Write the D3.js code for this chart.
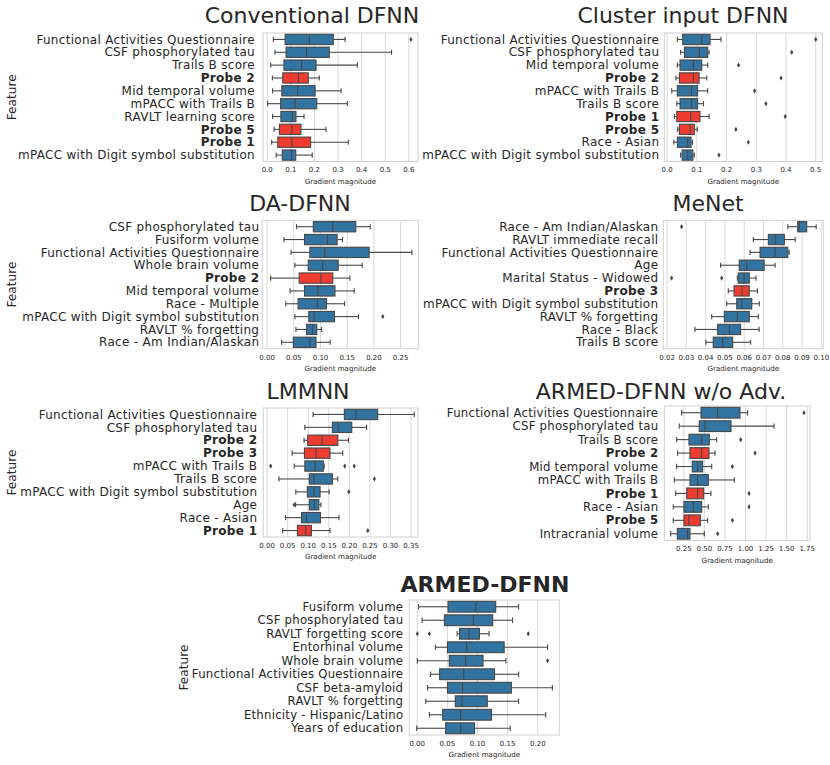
<!DOCTYPE html>
<html><head><meta charset="utf-8">
<script src="https://cdn.jsdelivr.net/npm/d3@7"></script>
<style>body{margin:0;background:#fff} svg{display:block;font-family:"DejaVu Sans",sans-serif}</style>
</head><body><svg id="c" width="830" height="765"></svg>
<script>
// ---------- DATA ----------
const titles = ["Conventional DFNN","Cluster input DFNN","DA-DFNN","MeNet","LMMNN","ARMED-DFNN w/o Adv.","ARMED-DFNN"];
const xAxisLabel = "Gradient magnitude";
const yAxisLabel = "Feature";

// box stats: [lower whisker, Q1, median, Q3, upper whisker]
const convFeatures = ["Functional Activities Questionnaire","CSF phosphorylated tau","Trails B score","Probe 2","Mid temporal volume","mPACC with Trails B","RAVLT learning score","Probe 5","Probe 1","mPACC with Digit symbol substitution"];
const convBoxes = [[0.028,0.078,0.181,0.282,0.332],[0.035,0.082,0.169,0.265,0.529],[0.017,0.073,0.148,0.209,0.384],[0.024,0.068,0.134,0.176,0.223],[0.025,0.064,0.131,0.205,0.315],[0.004,0.059,0.120,0.212,0.342],[0.025,0.060,0.109,0.124,0.158],[0.031,0.054,0.107,0.145,0.251],[0.021,0.047,0.107,0.186,0.346],[0.040,0.066,0.106,0.123,0.193]];
const convOutliers = [[0.611],[],[],[],[],[],[],[],[],[]];
const convTicks = [0,0.1,0.2,0.3,0.4,0.5,0.6];

const clusterFeatures = ["Functional Activities Questionnaire","CSF phosphorylated tau","Mid temporal volume","Probe 2","mPACC with Trails B","Trails B score","Probe 1","Probe 5","Race - Asian","mPACC with Digit symbol substitution"];
const clusterBoxes = [[0.036,0.054,0.118,0.146,0.183],[0.047,0.060,0.110,0.138,0.143],[0.036,0.045,0.090,0.118,0.138],[0.031,0.043,0.090,0.109,0.135],[0.017,0.036,0.084,0.104,0.138],[0.034,0.045,0.084,0.104,0.124],[0.026,0.034,0.081,0.112,0.143],[0.037,0.043,0.079,0.093,0.103],[0.024,0.036,0.071,0.082,0.087],[0.047,0.052,0.071,0.088,0.093]];
const clusterOutliers = [[0.502],[0.421],[0.242],[0.385],[0.296],[0.334],[0.399],[0.233],[0.275],[0.176]];
const clusterTicks = [0,0.1,0.2,0.3,0.4,0.5];

const daFeatures = ["CSF phosphorylated tau","Fusiform volume","Functional Activities Questionnaire","Whole brain volume","Probe 2","Mid temporal volume","Race - Multiple","mPACC with Digit symbol substitution","RAVLT % forgetting","Race - Am Indian/Alaskan"];
const daBoxes = [[0.056,0.0875,0.124,0.167,0.194],[0.0325,0.071,0.114,0.132,0.142],[0.046,0.081,0.109,0.192,0.272],[0.053,0.078,0.105,0.134,0.179],[0.0075,0.061,0.102,0.124,0.156],[0.044,0.071,0.096,0.128,0.164],[0.036,0.059,0.095,0.112,0.146],[0.053,0.079,0.089,0.127,0.172],[0.055,0.075,0.086,0.094,0.103],[0.028,0.050,0.081,0.0925,0.119]];
const daOutliers = [[],[],[],[],[],[],[],[0.2175],[],[]];
const daTicks = [0,0.05,0.10,0.15,0.20,0.25];

const menetFeatures = ["Race - Am Indian/Alaskan","RAVLT immediate recall","Functional Activities Questionnaire","Age","Marital Status - Widowed","Probe 3","mPACC with Digit symbol substitution","RAVLT % forgetting","Race - Black","Trails B score"];
const menetBoxes = [[0.0829,0.0880,0.0889,0.0927,0.0976],[0.0650,0.0728,0.0763,0.0811,0.0867],[0.0633,0.0685,0.0763,0.0829,0.0836],[0.0480,0.0577,0.0616,0.0706,0.0763],[0.0567,0.0572,0.0602,0.0629,0.0664],[0.0520,0.0550,0.0591,0.0629,0.0671],[0.0512,0.0564,0.0591,0.0642,0.0681],[0.0434,0.0500,0.0567,0.0629,0.0676],[0.0347,0.0465,0.0526,0.0584,0.0680],[0.0404,0.0442,0.0491,0.0543,0.0636]];
const menetOutliers = [[0.0278],[],[],[],[0.0226,0.0486],[],[],[],[],[]];
const menetTicks = [0.02,0.03,0.04,0.05,0.06,0.07,0.08,0.09,0.10];

const lmmFeatures = ["Functional Activities Questionnaire","CSF phosphorylated tau","Probe 2","Probe 3","mPACC with Trails B","Trails B score","mPACC with Digit symbol substitution","Age","Race - Asian","Probe 1"];
const lmmBoxes = [[0.113,0.189,0.217,0.270,0.359],[0.093,0.160,0.174,0.207,0.243],[0.091,0.100,0.135,0.173,0.199],[0.062,0.092,0.120,0.154,0.185],[0.067,0.093,0.118,0.138,0.140],[0.030,0.104,0.115,0.160,0.173],[0.071,0.099,0.115,0.130,0.152],[0.0705,0.104,0.116,0.127,0.132],[0.046,0.085,0.097,0.131,0.176],[0.039,0.075,0.095,0.109,0.154]];
const lmmOutliers = [[],[],[],[],[0.010,0.190,0.213],[0.262],[0.200],[0.067],[],[0.246]];
const lmmTicks = [0,0.05,0.10,0.15,0.20,0.25,0.30,0.35];

const advFeatures = ["Functional Activities Questionnaire","CSF phosphorylated tau","Trails B score","Probe 2","Mid temporal volume","mPACC with Trails B","Probe 1","Race - Asian","Probe 5","Intracranial volume"];
const advBoxes = [[0.230,0.465,0.668,0.939,1.032],[0.201,0.444,0.514,0.830,1.353],[0.169,0.319,0.473,0.566,0.655],[0.181,0.331,0.473,0.562,0.635],[0.169,0.359,0.424,0.485,0.595],[0.140,0.331,0.424,0.554,0.870],[0.157,0.291,0.424,0.497,0.586],[0.128,0.258,0.372,0.473,0.554],[0.128,0.258,0.319,0.457,0.546],[0.096,0.177,0.302,0.331,0.505]];
const advOutliers = [[1.717],[],[0.947],[1.122],[0.846],[],[1.049],[1.049],[0.846],[0.668]];
const advTicks = [0.25,0.50,0.75,1.00,1.25,1.50,1.75];

const armedFeatures = ["Fusiform volume","CSF phosphorylated tau","RAVLT forgetting score","Entorhinal volume","Whole brain volume","Functional Activities Questionnaire","CSF beta-amyloid","RAVLT % forgetting","Ethnicity - Hispanic/Latino","Years of education"];
const armedBoxes = [[0.003,0.052,0.098,0.131,0.169],[0.009,0.046,0.094,0.126,0.159],[0.067,0.071,0.087,0.104,0.120],[0.031,0.051,0.083,0.145,0.217],[0.001,0.054,0.081,0.110,0.148],[0.023,0.038,0.078,0.129,0.169],[0.018,0.051,0.076,0.157,0.225],[0.015,0.064,0.075,0.117,0.169],[0.021,0.043,0.073,0.124,0.214],[0.000,0.048,0.073,0.096,0.155]];
const armedOutliers = [[],[],[0.001,0.021,0.185],[],[0.217],[],[],[],[],[]];
const armedTicks = [0,0.05,0.10,0.15,0.20];

// ---------- LAYOUT ----------
const panels = [
  {title:titles[0],f:convFeatures,b:convBoxes,o:convOutliers,t:convTicks,fmt:".1f",dom:[-0.0157,0.641],x:[263,418],y:[33,161.5],tx:312,ty:23,bold:false,feat:11.7,fs:12,ls:0.3,gap:8},
  {title:titles[1],f:clusterFeatures,b:clusterBoxes,o:clusterOutliers,t:clusterTicks,fmt:".1f",dom:[-0.008,0.524],x:[664.3,822.3],y:[33,161.5],tx:683,ty:23,bold:false,feat:null,fs:12,ls:0.3,gap:5},
  {title:titles[2],f:daFeatures,b:daBoxes,o:daOutliers,t:daTicks,fmt:".2f",dom:[-0.008,0.284],x:[262.3,418.3],y:[220.3,348.7],tx:300,ty:210.7,bold:false,feat:11.7,fs:12,ls:0.3,gap:3},
  {title:titles[3],f:menetFeatures,b:menetBoxes,o:menetOutliers,t:menetTicks,fmt:".2f",dom:[0.0183,0.1013],x:[663.3,823.3],y:[220.3,348.7],tx:708,ty:210.7,bold:false,feat:null,fs:12,ls:0.25,gap:5},
  {title:titles[4],f:lmmFeatures,b:lmmBoxes,o:lmmOutliers,t:lmmTicks,fmt:".2f",dom:[-0.008,0.368],x:[263.3,418],y:[408,537],tx:308,ty:399.3,bold:false,feat:12,fs:12,ls:0.3,gap:6},
  {title:titles[5],f:advFeatures,b:advBoxes,o:advOutliers,t:advTicks,fmt:".2f",dom:[0.019,1.79],x:[664.3,810],y:[406,540.5],tx:661,ty:399.3,bold:false,feat:null,fs:11.7,ls:0.25,gap:6},
  {title:titles[6],f:armedFeatures,b:armedBoxes,o:armedOutliers,t:armedTicks,fmt:".2f",dom:[-0.0123,0.2365],x:[409.3,559.3],y:[600,735],tx:485,ty:592,bold:true,feat:183.3,fs:11.7,ls:0.25,gap:6}
];

const BLUE = "#3274a1", RED = "#ef3c31", LINE = "#474747", TXT = "#262626", GRID = "#d8d8d8", FRAME = "#d0d0d0";
const svg = d3.select("#c");
const diamond = "M0,-2.6L1.6,0L0,2.6L-1.6,0Z";

panels.forEach(p => {
  const g = svg.append("g");
  const x = d3.scaleLinear().domain(p.dom).range(p.x);
  const y = d3.scaleBand().domain(p.f).range(p.y).padding(0);
  const bw = y.bandwidth();
  const bh = bw * 0.8, cap = bw * 0.4;

  // gridlines
  g.append("g").attr("class","grid")
    .attr("transform",`translate(0,${p.y[1]})`)
    .call(d3.axisBottom(x).tickValues(p.t).tickSize(-(p.y[1]-p.y[0])).tickFormat(""))
    .call(s => s.select(".domain").remove())
    .call(s => s.selectAll("line").attr("stroke",GRID).attr("stroke-width",1));

  // frame
  g.append("rect").attr("x",p.x[0]).attr("y",p.y[0]).attr("width",p.x[1]-p.x[0]).attr("height",p.y[1]-p.y[0])
    .attr("fill","none").attr("stroke",FRAME).attr("stroke-width",1);

  // tick labels
  g.append("g").attr("transform",`translate(0,${p.y[1]})`)
    .call(d3.axisBottom(x).tickValues(p.t).tickSize(0).tickPadding(6).tickFormat(d3.format(p.fmt)))
    .call(s => s.select(".domain").remove())
    .call(s => s.selectAll("text").attr("font-size",7).attr("fill",TXT).attr("font-family","DejaVu Sans"));

  // x label
  g.append("text").attr("x",(p.x[0]+p.x[1])/2).attr("y",p.y[1]+22).attr("text-anchor","middle")
    .attr("font-size",7.1).attr("fill",TXT).text(xAxisLabel);

  // y labels
  g.selectAll("text.ylab").data(p.f).join("text").attr("class","ylab")
    .attr("x",p.x[0]-p.gap).attr("y",d => y(d)+bw/2).attr("dy","0.35em").attr("text-anchor","end")
    .attr("font-size",p.fs).attr("letter-spacing",p.ls).attr("fill",TXT)
    .attr("font-weight",d => d.startsWith("Probe") ? "bold" : "normal").text(d => d);

  // boxes
  const rows = p.f.map((name,i) => ({name, s:p.b[i], o:p.o[i]}));
  const row = g.selectAll("g.row").data(rows).join("g").attr("class","row")
    .attr("transform",d => `translate(0,${y(d.name)+bw/2})`);
  row.append("line").attr("x1",d=>x(d.s[0])).attr("x2",d=>x(d.s[1])).attr("stroke",LINE).attr("stroke-width",1.1);
  row.append("line").attr("x1",d=>x(d.s[3])).attr("x2",d=>x(d.s[4])).attr("stroke",LINE).attr("stroke-width",1.1);
  row.append("line").attr("x1",d=>x(d.s[0])).attr("x2",d=>x(d.s[0])).attr("y1",-cap/2).attr("y2",cap/2).attr("stroke",LINE).attr("stroke-width",1.1);
  row.append("line").attr("x1",d=>x(d.s[4])).attr("x2",d=>x(d.s[4])).attr("y1",-cap/2).attr("y2",cap/2).attr("stroke",LINE).attr("stroke-width",1.1);
  row.append("rect").attr("x",d=>x(d.s[1])).attr("width",d=>x(d.s[3])-x(d.s[1])).attr("y",-bh/2).attr("height",bh)
    .attr("fill",d => d.name.startsWith("Probe") ? RED : BLUE).attr("stroke",LINE).attr("stroke-width",1.1);
  row.append("line").attr("x1",d=>x(d.s[2])).attr("x2",d=>x(d.s[2])).attr("y1",-bh/2).attr("y2",bh/2).attr("stroke",LINE).attr("stroke-width",1.1);
  row.selectAll("path.out").data(d => d.o).join("path").attr("class","out")
    .attr("d",diamond).attr("transform",v => `translate(${x(v)},0)`).attr("fill",LINE);

  // title
  g.append("text").attr("x",p.tx).attr("y",p.ty).attr("text-anchor","middle").attr("font-size",22)
    .attr("font-weight",p.bold ? "bold" : "normal").attr("fill",TXT).text(p.title);

  // Feature label
  if (p.feat !== null) {
    const cy = (p.y[0]+p.y[1])/2;
    g.append("text").attr("transform",`translate(${p.feat},${cy}) rotate(-90)`).attr("dy","0.35em")
      .attr("text-anchor","middle").attr("font-size",12.2).attr("fill",TXT).text(yAxisLabel);
  }
});
</script>
</body></html>
